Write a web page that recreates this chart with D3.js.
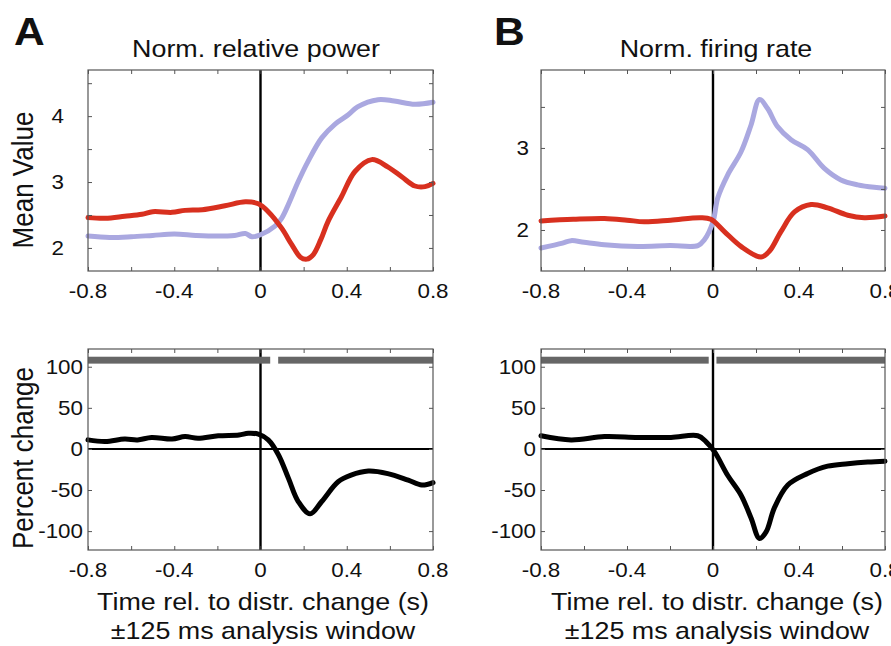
<!DOCTYPE html>
<html><head><meta charset="utf-8">
<script src="https://cdn.jsdelivr.net/npm/d3@7"></script>
<style>body{margin:0;background:#fff}svg{display:block}text{font-family:"Liberation Sans",Arial,Helvetica,sans-serif;fill:#111}</style>
</head><body>
<script>
// ---------- DATA ----------
const xTicks = [-0.8, -0.6, -0.4, -0.2, 0, 0.2, 0.4, 0.6, 0.8];
const xTickLabels = ["-0.8", "", "-0.4", "", "0", "", "0.4", "", "0.8"];
const yTicksPowerA = [2, 2.5, 3, 3.5, 4, 4.5];
const yTicksRateB = [2, 2.5, 3, 3.5];
const yTicksPct = [-100, -50, 0, 50, 100];

// Panel A top: normalized relative power
const powerRedT = [-0.8,-0.72,-0.63,-0.55,-0.5,-0.41,-0.35,-0.27,-0.165,-0.07,-0.01,0.036,0.098,0.145,0.185,0.215,0.245,0.28,0.313,0.376,0.438,0.516,0.59,0.655,0.716,0.763,0.8];
const powerRedV = [2.46,2.45,2.48,2.51,2.55,2.54,2.57,2.58,2.64,2.70,2.67,2.55,2.30,2.05,1.86,1.83,1.9,2.13,2.40,2.78,3.16,3.34,3.23,3.08,2.94,2.93,2.98];
const powerBlueT = [-0.8,-0.7,-0.6,-0.5,-0.4,-0.3,-0.2,-0.12,-0.07,-0.04,0,0.067,0.098,0.128,0.174,0.22,0.284,0.346,0.407,0.45,0.545,0.62,0.716,0.8];
const powerBlueV = [2.18,2.16,2.17,2.19,2.21,2.19,2.18,2.19,2.22,2.17,2.20,2.33,2.45,2.65,3.0,3.31,3.67,3.88,4.02,4.14,4.25,4.23,4.18,4.21];

// Panel B top: normalized firing rate
const rateRedT = [-0.8,-0.65,-0.505,-0.4,-0.32,-0.197,-0.057,-0.01,0.053,0.13,0.223,0.262,0.316,0.379,0.456,0.533,0.627,0.704,0.8];
const rateRedV = [2.11,2.13,2.14,2.12,2.10,2.12,2.15,2.13,1.98,1.80,1.67,1.74,1.98,2.22,2.31,2.27,2.18,2.15,2.17];
const rateBlueT = [-0.8,-0.7,-0.66,-0.6,-0.505,-0.35,-0.2,-0.07,-0.04,0,0.022,0.068,0.13,0.177,0.216,0.254,0.30,0.363,0.44,0.518,0.595,0.673,0.75,0.8];
const rateBlueV = [1.78,1.84,1.87,1.85,1.82,1.80,1.81,1.81,1.88,2.10,2.39,2.67,2.95,3.28,3.59,3.48,3.26,3.10,2.98,2.75,2.61,2.55,2.52,2.51];

// Bottom panels: percent change
const pctPowerT = [-0.8,-0.72,-0.63,-0.57,-0.505,-0.41,-0.35,-0.29,-0.196,-0.1,-0.057,-0.01,0.036,0.083,0.13,0.175,0.23,0.284,0.36,0.42,0.5,0.59,0.685,0.748,0.8];
const pctPowerV = [11,9,12,11,14,12,15,13,16,17,19,18,11,-7,-36,-64,-79,-64,-40,-32,-27,-30,-38,-44,-41];
const pctRateT = [-0.8,-0.66,-0.505,-0.35,-0.195,-0.071,-0.033,0.006,0.068,0.13,0.177,0.216,0.247,0.285,0.348,0.44,0.533,0.627,0.72,0.8];
const pctRateV = [16,11,15,14,14,16,9,-3,-32,-56,-84,-109,-101,-72,-44,-30,-21,-18,-16,-15];

// Significance bars (time spans)
const sigPower = [[-0.8, 0.045], [0.082, 0.8]];
const sigRate = [[-0.8, -0.02], [0.016, 0.8]];
const sigLevel = 108;

// ---------- DRAW ----------
const W = 891, H = 646, SX = 1.12;
const RED = "#d8301f", BLUE = "#aaa8e0";
const svg = d3.select("body").append("svg").attr("width", W).attr("height", H);

function txt(x, y, s, size, anchor, opts = {}) {
  const t = svg.append("text")
    .attr("transform", `translate(${x},${y}) scale(${SX},1)` + (opts.rot ? " rotate(-90)" : ""))
    .attr("text-anchor", anchor).attr("font-size", size).text(s);
  if (opts.bold) t.attr("font-weight", "bold");
  return t;
}

function panel(cfg) {
  const x = d3.scaleLinear().domain([-0.8, 0.8]).range([cfg.x0, cfg.x1]);
  const y = d3.scaleLinear().domain(cfg.yDom).range([cfg.y1, cfg.y0]);
  const g = svg.append("g");
  g.append("line").attr("x1", x(0)).attr("x2", x(0)).attr("y1", cfg.y0).attr("y2", cfg.y1)
    .attr("stroke", "#000").attr("stroke-width", 2.4);
  if (cfg.hZero) g.append("line").attr("x1", cfg.x0).attr("x2", cfg.x1).attr("y1", y(0)).attr("y2", y(0))
    .attr("stroke", "#000").attr("stroke-width", 2);
  if (cfg.sig) cfg.sig.forEach(s => {
    g.append("rect").attr("x", x(s[0])).attr("width", x(s[1]) - x(s[0]))
      .attr("y", y(sigLevel + 4.2)).attr("height", y(sigLevel - 4.2) - y(sigLevel + 4.2)).attr("fill", "#666");
  });
  const line = d3.line().x(d => x(d[0])).y(d => y(d[1])).curve(d3.curveCatmullRom.alpha(0.5));
  cfg.series.forEach(s => {
    const pts = s.t.map((t, i) => [t, s.v[i]]);
    g.append("path").datum(pts).attr("d", line).attr("fill", "none")
      .attr("stroke", s.color).attr("stroke-width", 5)
      .attr("stroke-linejoin", "round").attr("stroke-linecap", "round");
  });
  const tl = 4;
  g.append("g").attr("transform", `translate(0,${cfg.y1})`)
    .call(d3.axisBottom(x).tickValues(xTicks).tickSize(-tl).tickFormat(""));
  g.append("g").attr("transform", `translate(0,${cfg.y0})`)
    .call(d3.axisTop(x).tickValues(xTicks).tickSize(-tl).tickFormat(""));
  g.append("g").attr("transform", `translate(${cfg.x0},0)`)
    .call(d3.axisLeft(y).tickValues(cfg.yTicks).tickSize(-tl).tickFormat(""));
  g.append("g").attr("transform", `translate(${cfg.x1},0)`)
    .call(d3.axisRight(y).tickValues(cfg.yTicks).tickSize(-tl).tickFormat(""));
  g.selectAll(".domain").remove();
  g.selectAll(".tick line").attr("stroke", "#555");
  g.append("rect").attr("x", cfg.x0).attr("y", cfg.y0).attr("width", cfg.x1 - cfg.x0).attr("height", cfg.y1 - cfg.y0)
    .attr("fill", "none").attr("stroke", "#555").attr("stroke-width", 1.2);
  xTicks.forEach((t, i) => { if (xTickLabels[i]) txt(x(t), cfg.y1 + 27, xTickLabels[i], 20, "middle"); });
  cfg.yTicks.forEach(v => { if (Number.isInteger(v)) txt(cfg.yLabRight, y(v) + 7, String(v), 20, "end"); });
}

panel({x0: 88, x1: 433, y0: 70, y1: 271, yDom: [1.65, 4.70], yTicks: yTicksPowerA, yLabRight: 64,
  series: [{t: powerBlueT, v: powerBlueV, color: BLUE}, {t: powerRedT, v: powerRedV, color: RED}]});
panel({x0: 541, x1: 885, y0: 70, y1: 271, yDom: [1.5, 3.95], yTicks: yTicksRateB, yLabRight: 529,
  series: [{t: rateBlueT, v: rateBlueV, color: BLUE}, {t: rateRedT, v: rateRedV, color: RED}]});
panel({x0: 88, x1: 433, y0: 349, y1: 550, yDom: [-123, 121.6], yTicks: yTicksPct, yLabRight: 83, hZero: true, sig: sigPower,
  series: [{t: pctPowerT, v: pctPowerV, color: "#000"}]});
panel({x0: 541, x1: 885, y0: 349, y1: 550, yDom: [-123, 121.6], yTicks: yTicksPct, yLabRight: 536, hZero: true, sig: sigRate,
  series: [{t: pctRateT, v: pctRateV, color: "#000"}]});

txt(14, 45, "A", 38, "start", {bold: true});
txt(494, 45, "B", 38, "start", {bold: true});
txt(256, 57, "Norm. relative power", 24, "middle");
txt(716, 57, "Norm. firing rate", 24, "middle");
txt(33, 180, "Mean Value", 26, "middle", {rot: true});
txt(33, 458, "Percent change", 26, "middle", {rot: true});
txt(263, 610, "Time rel. to distr. change (s)", 24, "middle");
txt(263, 639, "\u00b1125 ms analysis window", 24, "middle");
txt(717, 610, "Time rel. to distr. change (s)", 24, "middle");
txt(717, 639, "\u00b1125 ms analysis window", 24, "middle");
</script>
</body></html>
